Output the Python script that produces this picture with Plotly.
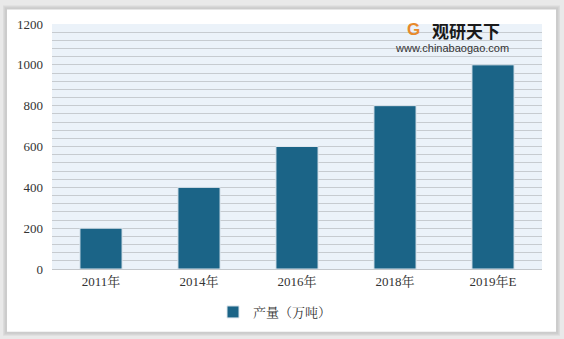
import plotly.graph_objects as go

categories = ["2011年", "2014年", "2016年", "2018年", "2019年E"]
values = [200, 400, 600, 800, 1000]
series_name = "产量（万吨）"
y_ticks = [0, 200, 400, 600, 800, 1000, 1200]

W, H = 564, 339
L, R, T, B = 52, 22, 23.5, 70

font_fam = "Liberation Serif, Noto Serif CJK SC, Noto Sans CJK SC, serif"

fig = go.Figure()
fig.add_trace(go.Bar(
    x=categories, y=values, name=series_name,
    marker=dict(color="#1B6487", line=dict(color="#dfe7ee", width=1)),
    width=0.43,
))

def px2paper_x(px):
    return (px - L) / (W - L - R)

def px2paper_y(py):
    return (H - B - py) / (H - T - B)

shapes = []
# shadow layers
for i, c in enumerate(["#dcdcdc", "#d4d4d4", "#cccccc"]):
    d = 3 - i
    shapes.append(dict(type="rect", xref="paper", yref="paper",
                       x0=px2paper_x(6 - d), x1=px2paper_x(557 + d),
                       y0=px2paper_y(333 + d), y1=px2paper_y(8 - d),
                       fillcolor=c, line=dict(width=0), layer="below"))
shapes.append(dict(type="rect", xref="paper", yref="paper",
                   x0=px2paper_x(7), x1=px2paper_x(556),
                   y0=px2paper_y(332), y1=px2paper_y(9),
                   fillcolor="white", line=dict(width=0), layer="below"))
# plot-area background
shapes.append(dict(type="rect", xref="paper", yref="paper", x0=0, x1=1, y0=0, y1=1,
                   fillcolor="#EBF2F9", line=dict(width=0), layer="below"))
fig.update_layout(shapes=shapes)

fig.add_annotation(text="<b>观研天下</b>", xref="paper", yref="paper",
                   x=px2paper_x(431), y=px2paper_y(30), xanchor="left", yanchor="middle",
                   showarrow=False, borderpad=0,
                   font=dict(family="Noto Sans CJK SC", size=17, color="#1a1a1a"))
fig.add_annotation(text="www.chinabaogao.com", xref="paper", yref="paper",
                   x=px2paper_x(394), y=px2paper_y(48), xanchor="left", yanchor="middle",
                   showarrow=False, borderpad=0,
                   font=dict(family="Liberation Sans, Arial", size=11, color="#333333"))
# simple logo swirl
fig.add_annotation(text="<b>G</b>", xref="paper", yref="paper",
                   x=px2paper_x(413), y=px2paper_y(29), xanchor="center", yanchor="middle",
                   showarrow=False, borderpad=0,
                   font=dict(family="Liberation Sans, Arial", size=17, color="#E8892B"))

fig.update_layout(
    width=W, height=H,
    margin=dict(l=L, r=R, t=T, b=B, pad=0, autoexpand=False),
    paper_bgcolor="#e9e9e9",
    plot_bgcolor="rgba(0,0,0,0)",
    bargap=0.57,
    font=dict(family=font_fam, size=13, color="#333333"),
    xaxis=dict(showgrid=False, showline=True, linecolor="#c3c7cb", linewidth=1,
               ticks="", automargin=False, tickfont=dict(size=13, color="#333333")),
    yaxis=dict(range=[0, 1200], tickvals=y_ticks, showgrid=True, gridcolor="#c6cbd0",
               gridwidth=1, zeroline=False, showline=False, ticks="", automargin=False,
               ticklabelstandoff=8,
               tickfont=dict(size=13, color="#333333"),
               minor=dict(dtick=40, showgrid=True, gridcolor="#c6cbd0", gridwidth=1)),
    showlegend=True,
    legend=dict(orientation="h", xref="container", yref="container",
                x=213 / W, xanchor="left", y=(H - 312) / H, yanchor="middle",
                font=dict(size=13, color="#333333"), bgcolor="rgba(0,0,0,0)",
                itemwidth=30),
)

fig.write_html("out.html")
